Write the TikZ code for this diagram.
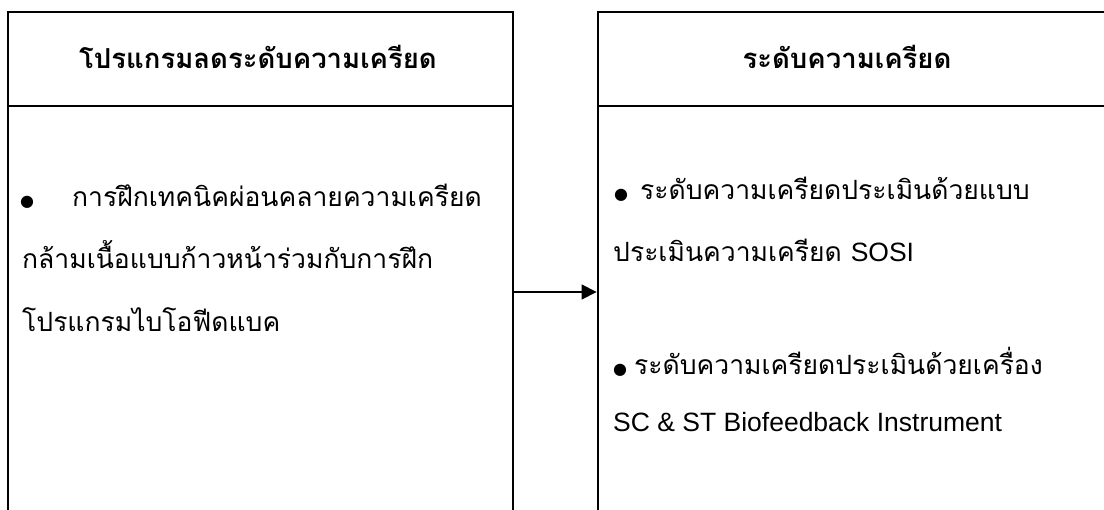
\documentclass[tikz,border=0pt]{standalone}
\usepackage{fontspec}
\newfontfamily\thaifont[Script=Thai]{Loma}
\newfontfamily\latinfont{Liberation Sans}
\newfontfamily\symfont{DejaVu Sans}
\usetikzlibrary{arrows.meta}
\begin{document}
\begin{tikzpicture}[x=1pt,y=-1pt,
  frameline/.style={line width=2.6pt, line cap=rect},
  headtext/.style={inner sep=0pt, anchor=base, font=\thaifont\bfseries\fontsize{27.5}{27.5}\selectfont},
  bodytext/.style={inner sep=0pt, anchor=base west, font=\thaifont\fontsize{26.5}{26.5}\selectfont},
  bulletmark/.style={inner sep=0pt, anchor=base west, font=\symfont\fontsize{16}{16}\selectfont},
  flow/.style={line width=1.2pt, -{Triangle[length=15pt,width=15pt]}}]
\useasboundingbox (0,0) rectangle (1104,510);
\begin{scope}
\clip (0,0) rectangle (1104,510);
% left box
\draw[frameline] (8,540) -- (8,12) -- (513,12) -- (513,540);
\draw[frameline] (8,106) -- (513,106);
% right box
\draw[frameline] (598,540) -- (598,12) -- (1130,12);
\draw[frameline] (598,106) -- (1130,106);
\end{scope}
% headers
\node[headtext] (hL) at (258,69) {โปรแกรมลดระดับความเครียด};
\node[headtext] (hR) at (847,69) {ระดับความเครียด};
% left body
\node[bulletmark] (bL1) at (20,207) {●};
\node[bodytext] (tL1) at (72,207) {การฝึกเทคนิคผ่อนคลายความเครียด};
\node[bodytext] (tL2) at (22,269) {กล้ามเนื้อแบบก้าวหน้าร่วมกับการฝึก};
\node[bodytext] (tL3) at (22,332) {โปรแกรมไบโอฟีดแบค};
% right body
\node[bulletmark] (bR1) at (614,200) {●};
\node[bodytext] (tR1) at (640,200) {ระดับความเครียดประเมินด้วยแบบ};
\node[bodytext] (tR2) at (613,262) {ประเมินความเครียด {\latinfont SOSI}};
\node[bulletmark] (bR2) at (613,375) {●};
\node[bodytext] (tR3) at (634,375) {ระดับความเครียดประเมินด้วยเครื่อง};
\node[bodytext] (tR4) at (613,432) {\latinfont SC \& ST Biofeedback Instrument};
% arrow
\coordinate (arrowStart) at (514,292);
\coordinate (arrowEnd) at (596.6,292);
\draw[flow] (arrowStart) -- (arrowEnd);
\end{tikzpicture}
\end{document}
